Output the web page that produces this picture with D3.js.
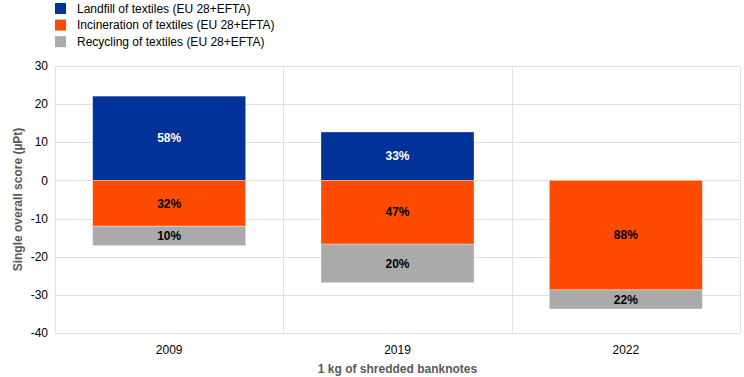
<!DOCTYPE html>
<html>
<head>
<meta charset="utf-8">
<script src="https://cdn.jsdelivr.net/npm/d3@7"></script>
<style>
body { margin: 0; background: #fff; }
text { font-family: "Liberation Sans", Arial, sans-serif; }
</style>
</head>
<body>
<div id="chart"></div>
<script>
var years = ["2009", "2019", "2022"];
var seriesNames = ["Landfill of textiles (EU 28+EFTA)", "Incineration of textiles (EU 28+EFTA)", "Recycling of textiles (EU 28+EFTA)"];
var seriesColors = ["#003299", "#ff4b00", "#aaaaaa"];
var labelColors = ["#ffffff", "#000000", "#000000"];
var landfill = [22.1, 12.7, 0];
var incineration = [-12.0, -16.7, -28.7];
var recycling = [-5.1, -10.1, -5.0];
var shares = [["58%", "32%", "10%"], ["33%", "47%", "20%"], [null, "88%", "22%"]];
var yTicks = [30, 20, 10, 0, -10, -20, -30, -40];

var margin = { top: 66, right: 4, bottom: 44, left: 55 },
    width = 744 - margin.left - margin.right,
    height = 377 - margin.top - margin.bottom;

var svg = d3.select("#chart")
    .append("svg")
    .attr("width", 744)
    .attr("height", 377);

var g = svg.append("g")
    .attr("transform", "translate(" + margin.left + "," + margin.top + ")");

var x = d3.scaleBand()
    .domain(years)
    .range([0, width]);

var y = d3.scaleLinear()
    .domain([-40, 30])
    .range([height, 0]);

// horizontal grid
g.append("g")
    .selectAll("line")
    .data(yTicks)
    .enter().append("line")
    .attr("x1", 0)
    .attr("x2", width)
    .attr("y1", function (d) { return Math.round(y(d)) + 0.5; })
    .attr("y2", function (d) { return Math.round(y(d)) + 0.5; })
    .attr("stroke", "#e0e0e0")
    .attr("stroke-width", 1);

// vertical separators
g.append("g")
    .selectAll("line")
    .data(years.concat(["end"]))
    .enter().append("line")
    .attr("x1", function (d, i) { return Math.round(i * x.bandwidth()) + 0.5; })
    .attr("x2", function (d, i) { return Math.round(i * x.bandwidth()) + 0.5; })
    .attr("y1", 0)
    .attr("y2", height)
    .attr("stroke", "#e0e0e0")
    .attr("stroke-width", 1);

// stacks: landfill above zero, incineration below zero, recycling below incineration
var barW = x.bandwidth() * 0.67;
years.forEach(function (yr, i) {
    var segs = [
        { y0: 0, y1: landfill[i] },
        { y0: incineration[i], y1: 0 },
        { y0: incineration[i] + recycling[i], y1: incineration[i] }
    ];
    var cx = x(yr) + x.bandwidth() / 2;
    segs.forEach(function (s, k) {
        if (s.y1 - s.y0 <= 0) return;
        g.append("rect")
            .attr("x", cx - barW / 2)
            .attr("y", y(s.y1))
            .attr("width", barW)
            .attr("height", y(s.y0) - y(s.y1))
            .attr("fill", seriesColors[k])
            .attr("stroke", "#ffffff")
            .attr("stroke-opacity", 0.4)
            .attr("stroke-width", 0.8);
        if (shares[i][k]) {
            g.append("text")
                .attr("x", cx)
                .attr("y", (y(s.y0) + y(s.y1)) / 2)
                .attr("dy", "0.35em")
                .attr("text-anchor", "middle")
                .attr("fill", labelColors[k])
                .attr("font-weight", "bold")
                .style("font-size", "12px")
                .text(shares[i][k]);
        }
    });
});

// y axis labels
g.append("g")
    .selectAll("text")
    .data(yTicks)
    .enter().append("text")
    .attr("x", -7)
    .attr("y", function (d) { return y(d); })
    .attr("dy", "0.35em")
    .attr("text-anchor", "end")
    .attr("fill", "#000")
    .style("font-size", "12px")
    .text(function (d) { return d; });

// x axis labels
g.append("g")
    .selectAll("text")
    .data(years)
    .enter().append("text")
    .attr("x", function (d) { return x(d) + x.bandwidth() / 2; })
    .attr("y", height + 21)
    .attr("text-anchor", "middle")
    .attr("fill", "#000")
    .style("font-size", "12px")
    .text(function (d) { return d; });

// axis titles
g.append("text")
    .attr("x", width / 2)
    .attr("y", height + 40)
    .attr("text-anchor", "middle")
    .attr("fill", "#595959")
    .attr("font-weight", "bold")
    .style("font-size", "12px")
    .text("1 kg of shredded banknotes");

svg.append("text")
    .attr("transform", "translate(22," + (margin.top + height / 2) + ") rotate(-90)")
    .attr("text-anchor", "middle")
    .attr("fill", "#595959")
    .attr("font-weight", "bold")
    .style("font-size", "12px")
    .text("Single overall score (\u00b5Pt)");

// legend
var legend = svg.append("g")
    .selectAll("g")
    .data(seriesNames)
    .enter().append("g")
    .attr("transform", function (d, i) { return "translate(55," + (3 + i * 16.6) + ")"; });

legend.append("rect")
    .attr("width", 11)
    .attr("height", 11)
    .attr("fill", function (d, i) { return seriesColors[i]; });

legend.append("text")
    .attr("x", 22)
    .attr("y", 5.5)
    .attr("dy", "0.35em")
    .attr("fill", "#000")
    .style("font-size", "12px")
    .text(function (d) { return d; });
</script>
</body>
</html>
